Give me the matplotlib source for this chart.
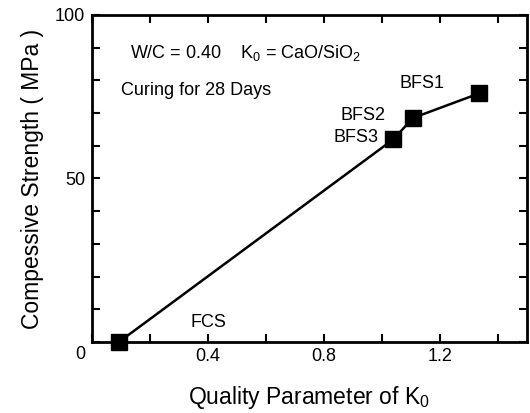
import matplotlib
matplotlib.use("Agg")
import matplotlib.pyplot as plt
from matplotlib.ticker import MultipleLocator, FixedLocator

plt.rcParams['font.family'] = ['Liberation Sans', 'DejaVu Sans']
plt.rcParams['mathtext.fontset'] = 'custom'
plt.rcParams['mathtext.rm'] = 'Liberation Sans'
plt.rcParams['mathtext.it'] = 'Liberation Sans'

names = ["FCS", "BFS3", "BFS2", "BFS1"]
k0 = [0.093, 1.04, 1.107, 1.335]
strength = [0.0, 62.0, 68.5, 76.0]
label_pos = [(0.40, 5.8), (0.91, 62.4), (0.934, 69.4), (1.138, 79.0)]

fig = plt.figure(figsize=(5.30, 4.13), dpi=100)
ax = fig.add_axes([0.1736, 0.172, 0.8204, 0.7917])

ax.plot(k0, strength, color='black', lw=1.8, marker='s', markersize=11,
        markerfacecolor='black', markeredgecolor='black', clip_on=False, zorder=3)

for n, (tx, ty) in zip(names, label_pos):
    ax.text(tx, ty, n, ha='center', va='center', fontsize=13)

ax.text(0.13, 88.4, r"W/C = 0.40    K$_0$ = CaO/SiO$_2$", ha='left', va='center', fontsize=13)
ax.text(0.10, 77.0, "Curing for 28 Days", ha='left', va='center', fontsize=13)

ax.set_xlim(0, 1.5)
ax.set_ylim(0, 100)
ax.xaxis.set_major_locator(FixedLocator([0, 0.4, 0.8, 1.2]))
ax.set_xticklabels(["", "0.4", "0.8", "1.2"])
ax.xaxis.set_minor_locator(MultipleLocator(0.2))
ax.yaxis.set_major_locator(FixedLocator([0, 50, 100]))
ax.set_yticklabels(["", "50", "100"])
ax.yaxis.set_minor_locator(MultipleLocator(10))
ax.text(-0.04, -3.7, "0", ha='center', va='center', fontsize=13)

ax.tick_params(which='both', direction='in', top=True, right=True, width=1.5, labelsize=13)
ax.tick_params(which='major', length=6)
ax.tick_params(which='minor', length=6)
ax.tick_params(axis='x', pad=4)
ax.tick_params(axis='y', pad=5)
for s in ax.spines.values():
    s.set_linewidth(2)

ax.set_xlabel(r"Quality Parameter of K$_0$", fontsize=16.5, labelpad=14)
ax.set_ylabel("Compessive Strength ( MPa )", fontsize=16.5, labelpad=8)

fig.savefig("out.png", dpi=100)
